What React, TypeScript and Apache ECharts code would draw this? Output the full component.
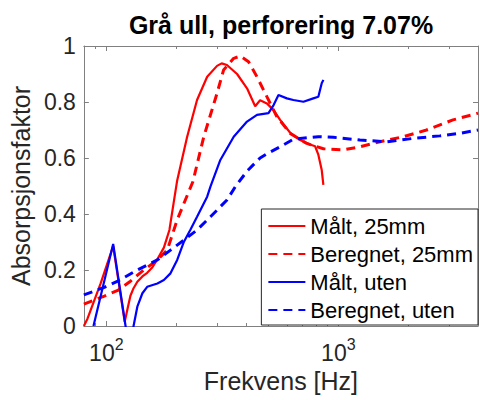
import React, { useEffect, useRef } from "react";
import * as echarts from "echarts";

const titleText = "Grå ull, perforering 7.07%";
const xAxisName = "Frekvens [Hz]";
const yAxisName = "Absorpsjonsfaktor";
const seriesNames = ["Målt, 25mm", "Beregnet, 25mm", "Målt, uten", "Beregnet, uten"];

const xMajorTicks = [100, 1000];
const xMinorTicks = [90, 200, 300, 400, 500, 600, 700, 800, 900, 2000, 3000, 4000];

const maalt25Freq = [80, 83, 94.5, 107, 120, 124, 127, 131, 136, 143, 150, 158, 165, 177, 187, 195, 202, 223, 246, 272, 300, 314, 331, 366, 404, 438, 460, 492, 526, 561, 620, 684, 755, 794, 820, 848, 862];
const maalt25Alpha = [0, 0.027, 0.152, 0.285, 0.015, 0.07, 0.108, 0.135, 0.158, 0.177, 0.19, 0.21, 0.235, 0.28, 0.343, 0.44, 0.52, 0.676, 0.807, 0.89, 0.929, 0.938, 0.932, 0.9, 0.849, 0.785, 0.806, 0.795, 0.771, 0.736, 0.69, 0.664, 0.648, 0.642, 0.612, 0.557, 0.504];

const beregnet25Freq = [80, 98, 112, 127, 145, 166, 183, 202, 219, 236, 263, 300, 320, 354, 378, 410, 446, 492, 543, 620, 731, 862, 1051, 1240, 1511, 1904, 2400, 3120, 4000];
const beregnet25Alpha = [0.078, 0.107, 0.127, 0.16, 0.2, 0.236, 0.271, 0.379, 0.45, 0.515, 0.676, 0.831, 0.914, 0.956, 0.964, 0.944, 0.89, 0.819, 0.748, 0.688, 0.652, 0.633, 0.629, 0.64, 0.658, 0.676, 0.7, 0.736, 0.76];

const maaltUtenFreq = [88, 107, 121, 126, 131, 136, 143, 150, 166, 177, 189, 202, 216, 230, 246, 272, 281, 310, 354, 404, 446, 500, 526, 552, 600, 640, 707, 780, 820, 848, 862];
const maaltUtenAlpha = [0, 0.293, 0, -0.12, 0, 0.069, 0.117, 0.14, 0.152, 0.164, 0.188, 0.236, 0.301, 0.343, 0.39, 0.462, 0.498, 0.593, 0.676, 0.73, 0.754, 0.76, 0.789, 0.825, 0.813, 0.807, 0.801, 0.813, 0.819, 0.867, 0.879];

const beregnetUtenFreq = [80, 98, 112, 136, 166, 189, 216, 246, 281, 331, 360, 404, 460, 492, 561, 640, 731, 820, 952, 1240, 1615, 2100, 2736, 3337, 4000];
const beregnetUtenAlpha = [0.111, 0.138, 0.16, 0.2, 0.236, 0.271, 0.307, 0.343, 0.39, 0.45, 0.498, 0.553, 0.6, 0.615, 0.64, 0.667, 0.672, 0.676, 0.674, 0.664, 0.658, 0.67, 0.679, 0.688, 0.7];

const zip = (f: number[], a: number[]) => f.map((v, i) => [v, a[i]]);

const FONT = "'Liberation Sans', Arial, Helvetica, sans-serif";
const AXIS_COLOR = "#808080";
const TEXT_COLOR = "#262626";

export default function App() {
  const ref = useRef<HTMLDivElement>(null);
  useEffect(() => {
    if (!ref.current) return;
    const chart = echarts.init(ref.current, undefined, { renderer: "svg" });
    const baseX: any = {
      type: "log",
      logBase: 10,
      min: 80,
      max: 4000,
      splitLine: { show: false },
      minorTick: { show: false },
      minorSplitLine: { show: false },
    };
    const baseY: any = {
      type: "value",
      min: 0,
      max: 1,
      interval: 0.2,
      splitLine: { show: false },
    };
    const line = (color: string) => ({ show: true, lineStyle: { color, width: 1 } });
    const mkSeries = (name: string, data: number[][], color: string, dashed: boolean) => ({
      name,
      type: "line",
      data,
      xAxisIndex: 0,
      yAxisIndex: 0,
      symbol: "none",
      showSymbol: false,
      clip: true,
      lineStyle: dashed ? { color, width: 3, type: [9, 6] } : { color, width: 2.2 },
      itemStyle: { color },
      z: 3,
    });
    chart.setOption({
      animation: false,
      backgroundColor: "#fff",
      textStyle: { fontFamily: FONT },
      title: {
        text: titleText,
        left: 281,
        textAlign: "center",
        top: 12,
        padding: 0,
        textStyle: { fontSize: 25, fontWeight: "bold", color: "#000", fontFamily: FONT },
      },
      grid: { left: 82, top: 46, right: 2, height: 280, containLabel: false },
      legend: {
        data: seriesNames,
        orient: "vertical",
        right: 2,
        bottom: 75,
        itemWidth: 37,
        itemHeight: 14,
        itemGap: 6,
        padding: [6, 5, 4, 6],
        backgroundColor: "#fff",
        borderColor: "#262626",
        borderWidth: 1,
        borderRadius: 0,
        itemStyle: { opacity: 0 },
        textStyle: { fontSize: 22, color: "#000", fontFamily: FONT },
      },
      xAxis: [
        {
          ...baseX,
          position: "bottom",
          axisLine: line(AXIS_COLOR),
          axisTick: { show: true, inside: true, length: 5, customValues: xMajorTicks, lineStyle: { color: AXIS_COLOR } },
          axisLabel: {
            show: true,
            customValues: xMajorTicks,
            margin: 10,
            color: TEXT_COLOR,
            fontFamily: FONT,
            formatter: (v: number) => "{b|10}{s|" + Math.round(Math.log10(v)) + "}",
            rich: {
              b: { fontSize: 23, color: TEXT_COLOR, fontFamily: FONT, verticalAlign: "bottom", padding: [5, 0, 0, 0] },
              s: { fontSize: 16, color: TEXT_COLOR, fontFamily: FONT, verticalAlign: "top" },
            },
          },
          name: xAxisName,
          nameLocation: "middle",
          nameGap: 41,
          nameTextStyle: { fontSize: 25, color: TEXT_COLOR, fontFamily: FONT },
        },
        {
          ...baseX,
          position: "bottom",
          axisLine: { show: false },
          axisTick: { show: true, inside: true, length: 3, customValues: xMinorTicks, lineStyle: { color: AXIS_COLOR } },
          axisLabel: { show: false },
        },
        {
          ...baseX,
          position: "top",
          axisLine: line(AXIS_COLOR),
          axisTick: { show: true, inside: true, length: 5, customValues: xMajorTicks, lineStyle: { color: AXIS_COLOR } },
          axisLabel: { show: false },
        },
        {
          ...baseX,
          position: "top",
          axisLine: { show: false },
          axisTick: { show: true, inside: true, length: 3, customValues: xMinorTicks, lineStyle: { color: AXIS_COLOR } },
          axisLabel: { show: false },
        },
      ],
      yAxis: [
        {
          ...baseY,
          position: "left",
          axisLine: line(AXIS_COLOR),
          axisTick: { show: true, inside: true, length: 5, lineStyle: { color: AXIS_COLOR } },
          axisLabel: {
            show: true,
            margin: 8,
            fontSize: 23,
            color: TEXT_COLOR,
            fontFamily: FONT,
            formatter: (v: number) => String(Math.round(v * 10) / 10),
          },
          name: yAxisName,
          nameLocation: "middle",
          nameGap: 48,
          nameTextStyle: { fontSize: 25, color: TEXT_COLOR, fontFamily: FONT },
        },
        {
          ...baseY,
          position: "right",
          axisLine: line(AXIS_COLOR),
          axisTick: { show: true, inside: true, length: 5, lineStyle: { color: AXIS_COLOR } },
          axisLabel: { show: false },
        },
      ],
      series: [
        mkSeries(seriesNames[0], zip(maalt25Freq, maalt25Alpha), "#ff0000", false),
        mkSeries(seriesNames[1], zip(beregnet25Freq, beregnet25Alpha), "#ff0000", true),
        mkSeries(seriesNames[2], zip(maaltUtenFreq, maaltUtenAlpha), "#0000ff", false),
        mkSeries(seriesNames[3], zip(beregnetUtenFreq, beregnetUtenAlpha), "#0000ff", true),
      ],
    });
    return () => chart.dispose();
  }, []);
  return <div ref={ref} style={{ position: "absolute", left: 0, top: 0, width: 480, height: 400 }} />;
}
